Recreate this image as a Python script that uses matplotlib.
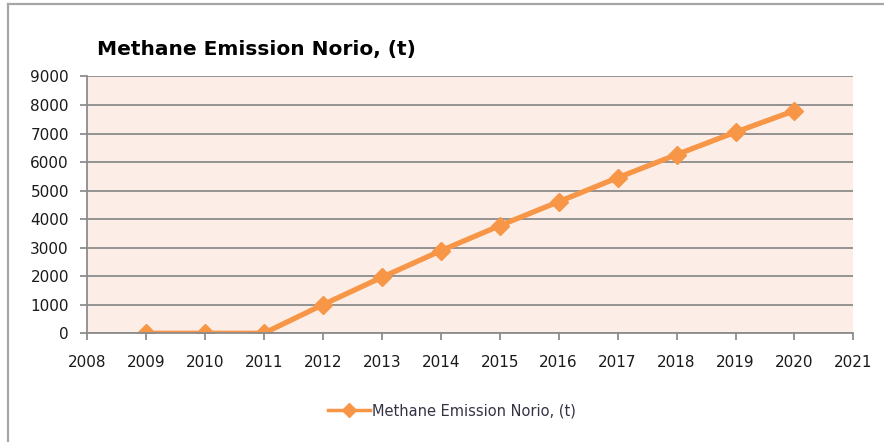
"""
Methane emission at Norio landfill, yearly line chart.
"""

import matplotlib

matplotlib.use("Agg")
import matplotlib.pyplot as plt
from matplotlib.lines import Line2D

years = [2009, 2010, 2011, 2012, 2013, 2014, 2015, 2016, 2017, 2018, 2019, 2020]
emission_t = [0, 0, 0, 1000, 1960, 2890, 3770, 4610, 5450, 6260, 7050, 7800]
x_ticks = list(range(2008, 2022))
y_ticks = list(range(0, 9001, 1000))

series_label = "Methane Emission Norio, (t)"
line_colour = "#F79646"
grid_colour = "#8C8C8C"

fig = plt.figure(figsize=(8.84, 4.42), dpi=100)
ax = fig.add_axes([0.0984, 0.246, 0.867, 0.581])

# outer chart frame (only left and top edges show)
fx, fy = 8 / 884, 1 - 4 / 442
fig.lines.append(Line2D([fx, fx], [0, fy], transform=fig.transFigure,
                        color="#A6A6A6", linewidth=1.6))
fig.lines.append(Line2D([fx, 1], [fy, fy], transform=fig.transFigure,
                        color="#A6A6A6", linewidth=1.6))

ax.set_facecolor("#FCEDE7")
ax.plot(years, emission_t, color=line_colour, linewidth=3.8,
        marker="D", markersize=9, label=series_label, solid_joinstyle="miter")

ax.set_xlim(2008, 2021)
ax.set_ylim(0, 9000)
ax.set_xticks(x_ticks)
ax.set_yticks(y_ticks)
ax.yaxis.grid(True, color=grid_colour, linewidth=1.3)
ax.set_axisbelow(True)

for side in ["top", "right"]:
    ax.spines[side].set_visible(False)
for side in ["left", "bottom"]:
    ax.spines[side].set_color(grid_colour)
    ax.spines[side].set_linewidth(1.3)
ax.tick_params(axis="both", direction="out", length=5, width=1.3,
               color=grid_colour, labelsize=11, labelcolor="#1a1a1a")
ax.tick_params(axis="x", pad=11)
ax.tick_params(axis="y", pad=8)

fig.text(97 / 884, 1 - 50 / 442, "Methane Emission Norio, (t)",
         fontsize=14.5, fontweight="bold", ha="left", va="center")

leg = ax.legend(loc="center", bbox_to_anchor=(452 / 884, 1 - 411 / 442),
                bbox_transform=fig.transFigure, frameon=False, fontsize=10.5,
                handlelength=2.9, handletextpad=0.15, labelcolor="#333344")
for h in leg.legend_handles:
    h.set_linewidth(2.5)
    h.set_markersize(7)

plt.savefig("out.png", dpi=100)
